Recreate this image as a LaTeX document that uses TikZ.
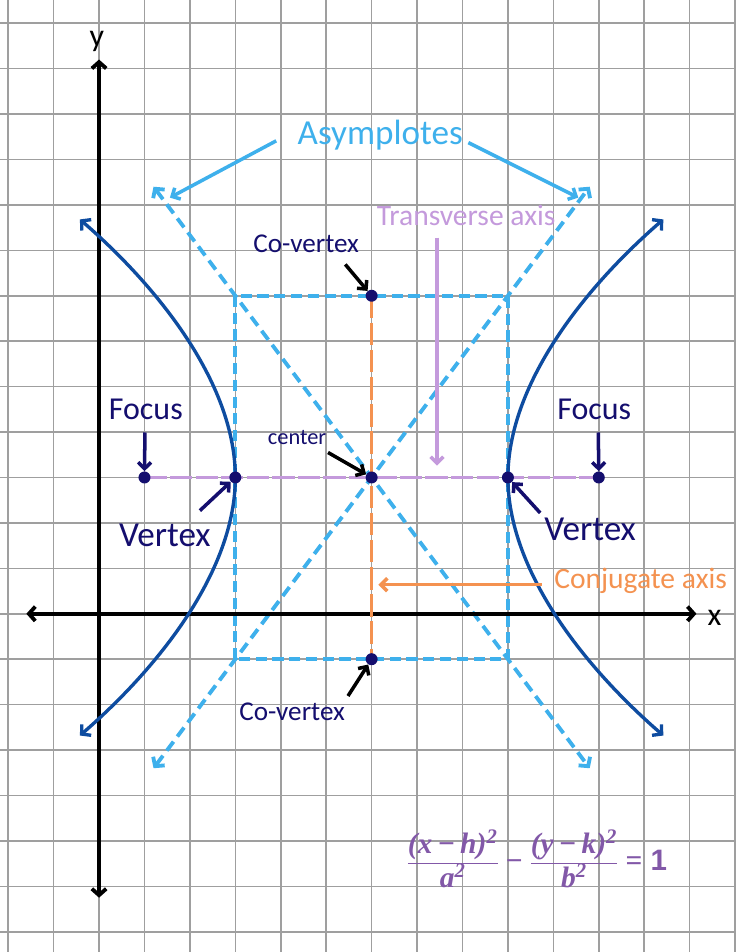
\documentclass[tikz,border=0pt]{standalone}
\usepackage{fontspec}
\setmainfont{Carlito}
\newfontfamily\eqfont{Liberation Serif}
\newfontfamily\onefont{Liberation Sans}
\usetikzlibrary{positioning,arrows.meta}
\definecolor{navy}{RGB}{20,14,110}
\definecolor{hypblue}{RGB}{14,76,160}
\definecolor{skyblue}{RGB}{62,176,236}
\definecolor{lilac}{RGB}{196,154,220}
\definecolor{carrot}{RGB}{244,146,80}
\definecolor{mauve}{RGB}{130,88,168}

\begin{document}
\begin{tikzpicture}[
  dot/.style={circle, fill=navy, inner sep=0pt, minimum size=7.5pt},
  lbl/.style={text=navy, font=\fontsize{20}{24}\selectfont},
  small/.style={text=navy, font=\fontsize{17}{20}\selectfont},
  tip/.style={-{Straight Barb[length=4pt,width=8pt]}, line width=2.2pt},
  tips/.style={{Straight Barb[length=4pt,width=9pt]}-{Straight Barb[length=4pt,width=9pt]}},
  axis/.style={tips, line width=2.4pt},
  hyp/.style={tips, draw=hypblue, line width=2.1pt},
  asym/.style={tips, draw=skyblue, line width=2.4pt, dash pattern=on 7pt off 4pt},
  boxline/.style={draw=skyblue, line width=2.4pt, dash pattern=on 7pt off 3.5pt}
]
\useasboundingbox[fill=white] (-2.18,-7.445) rectangle (14.02,13.51);
\draw[gray!75, line width=1pt] (-2.18,-7.445) grid (14.02,13.51);

% box and asymptotes
\draw[boxline] (3,-1) rectangle (9,7);
\draw[asym] (1.2,-3.4) -- (10.8,9.4);
\draw[asym] (1.2,9.4) -- (10.8,-3.4);

% axes
\coordinate (xl) at (-1.6,0);
\coordinate (xr) at (13.15,0);
\coordinate (yt) at (0,12.2);
\coordinate (yb) at (0,-6.25);
\draw[axis] (xl) -- (xr);
\draw[axis] (yb) -- (yt);
\node[font=\fontsize{20}{24}\selectfont] (xlbl) at (13.55,-0.08) {x};
\node[font=\fontsize{20}{24}\selectfont] (ylbl) at (-0.05,12.6) {y};

% points
\coordinate (F1) at (1,3);
\coordinate (F2) at (11,3);
\coordinate (V1) at (3,3);
\coordinate (V2) at (9,3);
\coordinate (C) at (6,3);
\coordinate (B1) at (6,7);
\coordinate (B2) at (6,-1);

% branches
\draw[hyp] (-0.42,8.68) .. controls (1.4,7.1) and (3,5) .. (V1)
  .. controls (3,1) and (1.4,-1.1) .. (-0.42,-2.68);
\draw[hyp] (12.42,8.68) .. controls (10.6,7.1) and (9,5) .. (V2)
  .. controls (9,1) and (10.6,-1.1) .. (12.42,-2.68);

\draw[lilac, line width=2.2pt, dash pattern=on 14pt off 2pt] (F1) -- (F2);
\draw[carrot, line width=2.2pt, dash pattern=on 14pt off 3pt] (B1) -- (B2);
\foreach \p in {F1,F2,V1,V2,C,B1,B2}
  \node[dot] (d\p) at (\p) {};

% labels
\node[text=skyblue, font=\fontsize{22}{26}\selectfont] (asy) at (6.19,10.53) {Asymplotes};
\coordinate (asyl) at (3.9,10.41);
\coordinate (asylh) at (1.56,9.16);
\coordinate (asyr) at (8.13,10.37);
\coordinate (asyrh) at (10.55,9.16);
\draw[tip, skyblue] (asyl) -- (asylh);
\draw[tip, skyblue] (asyr) -- (asyrh);

\node[text=lilac, font=\fontsize{18.5}{22}\selectfont] (trans) at (8.08,8.77) {Transverse axis};
\coordinate (transt) at (7.44,8.28);
\coordinate (transh) at (7.44,3.26);
\draw[tip, lilac] (transt) -- (transh);

\node[text=carrot, font=\fontsize{18.5}{22}\selectfont] (conj) at (11.92,0.73) {Conjugate axis};
\coordinate (conjt) at (9.74,0.64);
\coordinate (conjh) at (6.15,0.64);
\draw[tip, carrot] (conjt) -- (conjh);

\node[small] (cv1) at (4.56,8.15) {Co-vertex};
\coordinate (cv1t) at (5.42,7.69);
\draw[tip, black] (cv1t) -- (dB1);
\node[small] (cv2) at (4.25,-2.16) {Co-vertex};
\coordinate (cv2t) at (5.48,-1.81);
\draw[tip, black] (cv2t) -- (dB2);

\node[text=navy, font=\fontsize{14}{16}\selectfont] (cen) at (4.36,3.88) {center};
\coordinate (cent) at (5.04,3.55);
\draw[tip, black] (cent) -- (dC);

\node[lbl] (fl1) at (1.03,4.49) {Focus};
\node[lbl] (fl2) at (10.9,4.49) {Focus};
\coordinate (f1t) at (1.01,3.99);
\coordinate (f2t) at (10.99,3.99);
\draw[tip, navy] (f1t) -- (dF1);
\draw[tip, navy] (f2t) -- (dF2);

\node[lbl, font=\fontsize{22}{26}\selectfont] (vl1) at (1.45,1.72) {Vertex};
\node[lbl, font=\fontsize{22}{26}\selectfont] (vl2) at (10.81,1.85) {Vertex};
\coordinate (v1t) at (2.22,2.27);
\coordinate (v2t) at (9.71,2.22);
\draw[tip, navy] (v1t) -- (dV1);
\draw[tip, navy] (v2t) -- (dV2);

% equation
\node[text=mauve, font=\eqfont\bfseries\itshape\fontsize{18.5}{21}\selectfont] (eqn) at (9.65,-5.5) {\begin{tabular}{@{}c@{}}(x\,−\,h)\textsuperscript{2}\\\hline a\textsuperscript{2}\end{tabular}\;{\upshape −}\;\begin{tabular}{@{}c@{}}(y\,−\,k)\textsuperscript{2}\\\hline b\textsuperscript{2}\end{tabular}\;{\upshape =}\;{\onefont\upshape 1}};
\end{tikzpicture}
\end{document}
